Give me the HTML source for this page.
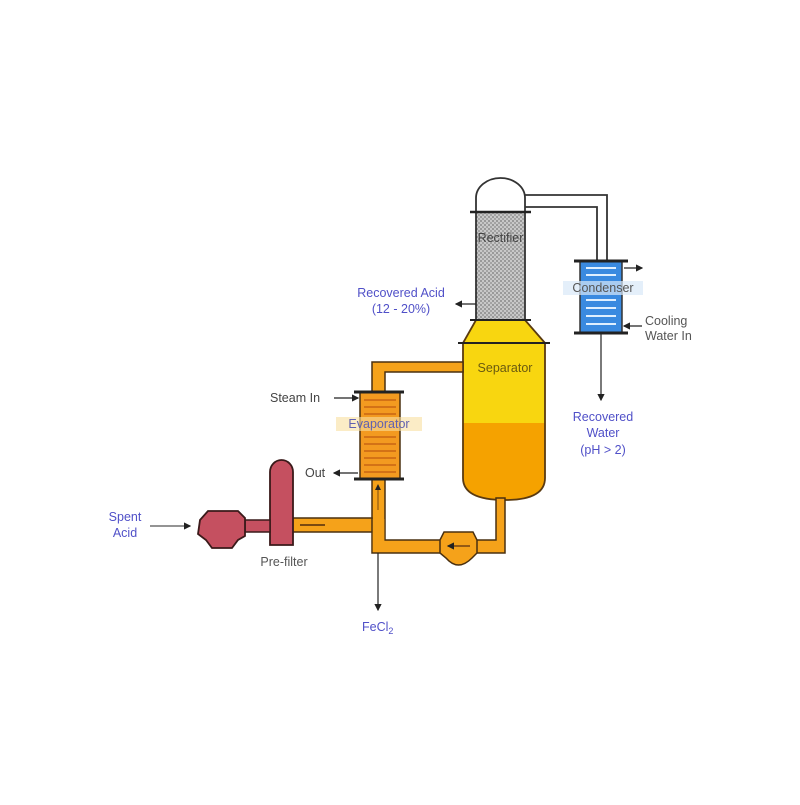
<!DOCTYPE html>
<html><head><meta charset="utf-8"><style>
html,body{margin:0;padding:0;background:#fff;}
svg text{font-family:"Liberation Sans",sans-serif;font-size:12.5px;}
.b{fill:#5050c8}.g{fill:#555}
</style></head><body>
<svg width="800" height="800" viewBox="0 0 800 800" xmlns="http://www.w3.org/2000/svg">
<defs>
<pattern id="hatch" width="4" height="4" patternUnits="userSpaceOnUse">
<rect width="4" height="4" fill="#c8c8c8"/><circle cx="1" cy="1" r="0.9" fill="#777"/><circle cx="3" cy="3" r="0.9" fill="#888"/>
</pattern>
<marker id="ar" markerWidth="6" markerHeight="6" refX="5" refY="3" orient="auto"><path d="M0,0 L6,3 L0,6 z" fill="#222"/></marker>
</defs>
<path d="M522,195 H607 V261" fill="none" stroke="#333" stroke-width="1.8"/>
<path d="M522,207 H597 V261" fill="none" stroke="#333" stroke-width="1.8"/>
<path d="M476,212 V198 A24.5,20 0 0 1 525,198 V212 Z" fill="#fff" stroke="#333" stroke-width="1.8"/>
<rect x="476" y="212" width="49" height="108" fill="url(#hatch)" stroke="#333" stroke-width="1.8"/>
<line x1="470" y1="212" x2="531" y2="212" stroke="#222" stroke-width="2.5"/>
<text x="500.5" y="242" text-anchor="middle" style="fill:#444">Rectifier</text>
<path d="M476,320 H525 L545,343 V478 Q545,500 505,500 Q463,500 463,478 V343 Z" fill="#f5a200"/>
<path d="M476,320 H525 L545,343 V423 H463 V343 Z" fill="#f8d610"/>
<path d="M476,320 H525 L545,343 V478 Q545,500 505,500 Q463,500 463,478 V343 Z" fill="none" stroke="#5a3a10" stroke-width="1.8"/>
<line x1="470" y1="320" x2="531" y2="320" stroke="#222" stroke-width="2"/>
<line x1="458" y1="343" x2="550" y2="343" stroke="#222" stroke-width="2"/>
<text x="505" y="372" text-anchor="middle" style="fill:#6a5a10">Separator</text>
<line x1="476" y1="304" x2="456" y2="304" stroke="#222" stroke-width="1.2" marker-end="url(#ar)"/>
<text x="401" y="297" text-anchor="middle" class="b">Recovered Acid</text>
<text x="401" y="313" text-anchor="middle" class="b">(12 - 20%)</text>
<g fill="#f5a21a" stroke="#4a3010" stroke-width="1.5">
<path d="M463,362 H372 V392 H385 V372 H463 Z"/>
<path d="M372,479 V553 H505 V498 H496 V540 H385 V479 Z"/>
<rect x="290" y="518" width="82" height="14"/>
</g>
<rect x="372.8" y="519" width="11.5" height="33" fill="#f5a21a"/>
<line x1="378" y1="510" x2="378" y2="485" stroke="#7a4a10" stroke-width="1" marker-end="url(#ar)"/>
<line x1="300" y1="525" x2="325" y2="525" stroke="#7a4a10" stroke-width="2"/>
<path d="M440,540 L444,532 H473 L477,540 V553 L472,558 Q458,572 446,558 L440,553 Z" fill="#f5a21a" stroke="#4a3010" stroke-width="1.5"/>
<line x1="470" y1="546" x2="448" y2="546" stroke="#5a3010" stroke-width="1.2" marker-end="url(#ar)"/>
<rect x="360" y="392" width="40" height="87" fill="#f39a20" stroke="#4a3010" stroke-width="1.5"/>
<g stroke="#c05a10" stroke-width="1.2">
<line x1="364" y1="400" x2="396" y2="400"/><line x1="364" y1="407" x2="396" y2="407"/><line x1="364" y1="414" x2="396" y2="414"/>
<line x1="364" y1="437" x2="396" y2="437"/><line x1="364" y1="444" x2="396" y2="444"/><line x1="364" y1="451" x2="396" y2="451"/><line x1="364" y1="458" x2="396" y2="458"/><line x1="364" y1="465" x2="396" y2="465"/><line x1="364" y1="472" x2="396" y2="472"/>
</g>
<line x1="354" y1="392" x2="404" y2="392" stroke="#222" stroke-width="3"/>
<line x1="354" y1="479" x2="404" y2="479" stroke="#222" stroke-width="3"/>
<rect x="336" y="417" width="86" height="14" fill="#f8e0a0" opacity="0.6"/>
<text x="379" y="428" text-anchor="middle" style="fill:#6060b0">Evaporator</text>
<text x="270" y="402" style="fill:#444">Steam In</text>
<line x1="334" y1="398" x2="358" y2="398" stroke="#222" stroke-width="1.2" marker-end="url(#ar)"/>
<text x="305" y="477" style="fill:#444">Out</text>
<line x1="358" y1="473" x2="334" y2="473" stroke="#222" stroke-width="1.2" marker-end="url(#ar)"/>
<line x1="378" y1="553" x2="378" y2="610" stroke="#222" stroke-width="1.2" marker-end="url(#ar)"/>
<text x="362" y="631" class="b">FeCl<tspan font-size="9" dy="3">2</tspan></text>
<path d="M270,545 V472 A11.5,12 0 0 1 293,472 V545 Z" fill="#c55060" stroke="#3a1a1a" stroke-width="1.8"/>
<path d="M245,520 H270 V532 H245 Z" fill="#c55060" stroke="#3a1a1a" stroke-width="1.5"/>
<path d="M200,520 L208,511 H238 L245,518 V536 L238,540 L232,548 H212 L206,540 L198,534 Z" fill="#c55060" stroke="#3a1a1a" stroke-width="1.8"/>
<text x="125" y="521" text-anchor="middle" class="b">Spent</text>
<text x="125" y="537" text-anchor="middle" class="b">Acid</text>
<line x1="150" y1="526" x2="190" y2="526" stroke="#555" stroke-width="1.2" marker-end="url(#ar)"/>
<text x="284" y="566" text-anchor="middle" style="fill:#555">Pre-filter</text>
<rect x="580" y="261" width="42" height="72" fill="#3a8ae0" stroke="#333" stroke-width="1.5"/>
<g stroke="#dfefff" stroke-width="2">
<line x1="586" y1="268" x2="616" y2="268"/><line x1="586" y1="275" x2="616" y2="275"/>
<line x1="586" y1="300" x2="616" y2="300"/><line x1="586" y1="308" x2="616" y2="308"/><line x1="586" y1="316" x2="616" y2="316"/><line x1="586" y1="324" x2="616" y2="324"/>
</g>
<line x1="574" y1="261" x2="628" y2="261" stroke="#222" stroke-width="3"/>
<line x1="574" y1="333" x2="628" y2="333" stroke="#222" stroke-width="3"/>
<rect x="563" y="281" width="80" height="14" fill="#d8e8f8" opacity="0.7"/>
<text x="603" y="292" text-anchor="middle" style="fill:#555">Condenser</text>
<line x1="624" y1="268" x2="642" y2="268" stroke="#222" stroke-width="1.2" marker-end="url(#ar)"/>
<line x1="642" y1="326" x2="624" y2="326" stroke="#222" stroke-width="1.2" marker-end="url(#ar)"/>
<text x="645" y="325" style="fill:#555">Cooling</text>
<text x="645" y="340" style="fill:#555">Water In</text>
<line x1="601" y1="333" x2="601" y2="400" stroke="#222" stroke-width="1.2" marker-end="url(#ar)"/>
<text x="603" y="421" text-anchor="middle" class="b">Recovered</text>
<text x="603" y="437" text-anchor="middle" class="b">Water</text>
<text x="603" y="454" text-anchor="middle" class="b">(pH &gt; 2)</text>
</svg>
</body></html>
